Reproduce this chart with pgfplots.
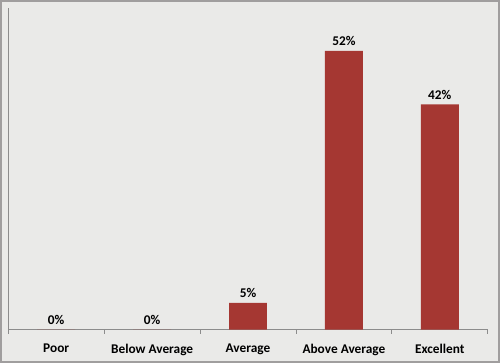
\documentclass[border=0pt]{standalone}
\usepackage{pgfplots}
\pgfplotsset{compat=1.18}
\usepackage{fontspec}
\setmainfont{Carlito}
\definecolor{barred}{RGB}{165,55,50}
\definecolor{bgc}{RGB}{234,234,232}
\definecolor{framec}{RGB}{160,158,158}
\definecolor{axc}{RGB}{140,140,140}
\begin{document}
\begin{tikzpicture}[x=1pt,y=1pt]
\begin{axis}[
  scale only axis,
  width=360pt, height=241.5pt,
  xmin=-0.5, xmax=4.5, ymin=0, ymax=60,
  axis x line*=bottom, axis y line*=left,
  axis line style={axc, line width=1pt},
  clip=false,
  xtick={-0.5,0.5,1.5,2.5,3.5,4.5},
  x tick label as interval,
  xticklabels={Poor,Below Average,Average,Above Average,Excellent},
  xticklabel style={font=\bfseries\fontsize{10}{12}\selectfont, yshift=-4pt},
  major tick length=3pt,
  tick align=outside,
  x tick style={axc, line width=0.6pt},
  ytick=\empty,
  ybar, bar width=28.5pt,
  nodes near coords={\pgfmathprintnumber{\pgfplotspointmeta}\%},
  nodes near coords style={font=\bfseries\fontsize{10}{12}\selectfont, text=black, yshift=0.5pt},
  /pgf/number format/assume math mode=true,
  set layers,
]
\begin{pgfonlayer}{axis background}
\fill[bgc, draw=framec, line width=1.2pt] ([xshift=-5.6pt,yshift=-24.2pt]rel axis cs:0,0) rectangle ([xshift=8.6pt,yshift=5.4pt]rel axis cs:1,1);
\end{pgfonlayer}
\addplot[fill=barred, draw=none] coordinates {(0,0) (1,0) (2,5) (3,52) (4,42)};
\end{axis}
\end{tikzpicture}
\end{document}
